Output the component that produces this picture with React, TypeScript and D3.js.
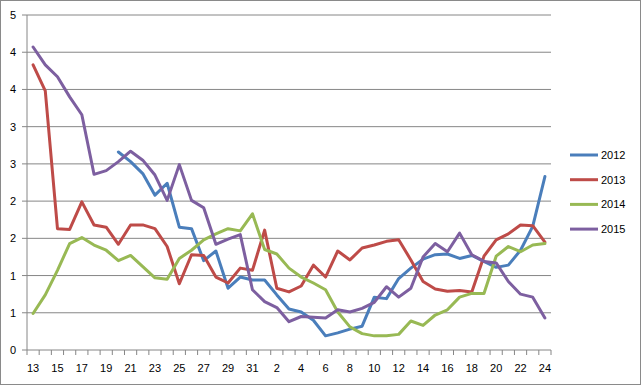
import * as d3 from "d3";

// x categories: day numbers, 13th-31st then 1st-24th
const days = [
  13, 14, 15, 16, 17, 18, 19, 20, 21, 22, 23, 24, 25, 26, 27, 28, 29, 30, 31,
  1, 2, 3, 4, 5, 6, 7, 8, 9, 10, 11, 12, 13, 14, 15, 16, 17, 18, 19, 20, 21, 22, 23, 24,
];

const s2012 = [
  null, null, null, null, null, null, null, 2.66, 2.53, 2.37, 2.08, 2.24, 1.65, 1.63, 1.2, 1.33, 0.83, 0.98, 0.94,
  0.94, 0.74, 0.55, 0.51, 0.4, 0.19, 0.23, 0.28, 0.32, 0.71, 0.69, 0.96, 1.1, 1.22, 1.28, 1.29, 1.23, 1.27, 1.19,
  1.11, 1.14, 1.34, 1.66, 2.33,
];
const s2013 = [
  3.83, 3.48, 1.63, 1.62, 1.99, 1.68, 1.65, 1.42, 1.68, 1.68, 1.63, 1.39, 0.89, 1.28, 1.27, 0.98, 0.9, 1.1, 1.07,
  1.61, 0.83, 0.78, 0.86, 1.14, 0.98, 1.33, 1.21, 1.37, 1.41, 1.46, 1.48, 1.21, 0.92, 0.82, 0.79, 0.8, 0.78, 1.26,
  1.48, 1.56, 1.68, 1.67, 1.45,
];
const s2014 = [
  0.49, 0.74, 1.07, 1.43, 1.51, 1.41, 1.34, 1.2, 1.27, 1.12, 0.97, 0.95, 1.23, 1.34, 1.48, 1.56, 1.63, 1.6, 1.83,
  1.35, 1.29, 1.1, 0.98, 0.9, 0.81, 0.51, 0.31, 0.22, 0.19, 0.19, 0.21, 0.39, 0.33, 0.47, 0.54, 0.71, 0.76, 0.76,
  1.26, 1.39, 1.32, 1.41, 1.43,
];
const s2015 = [
  4.07, 3.83, 3.67, 3.4, 3.16, 2.36, 2.41, 2.53, 2.67, 2.55, 2.35, 2.01, 2.49, 2.01, 1.91, 1.42, 1.49, 1.55, 0.81,
  0.65, 0.57, 0.38, 0.45, 0.44, 0.43, 0.54, 0.51, 0.56, 0.64, 0.85, 0.71, 0.83, 1.25, 1.43, 1.32, 1.57, 1.28, 1.19,
  1.17, 0.92, 0.75, 0.71, 0.43,
];

const seriesNames = ["2012", "2013", "2014", "2015"];
const seriesColors = ["#4a7ebb", "#be4b48", "#98b954", "#7d5fa0"];
const yTicks = [0, 0.5, 1, 1.5, 2, 2.5, 3, 3.5, 4, 4.5];
const yTickLabels = ["0", "1", "1", "2", "2", "3", "3", "4", "4", "5"];

const W = 641;
const H = 385;
const left = 27;
const right = 551;
const top = 15;
const bottom = 350;
const font = "'Liberation Sans', Arial, sans-serif";

export default function App() {
  const all = [s2012, s2013, s2014, s2015];
  const x = d3
    .scaleBand<number>()
    .domain(days.map((_, i) => i))
    .range([left, right]);
  const bw = x.bandwidth();
  const cx = (i: number) => (x(i) as number) + bw / 2;
  const y = d3.scaleLinear().domain([0, 4.5]).range([bottom, top]);

  const line = d3
    .line<number | null>()
    .defined((d) => d !== null)
    .x((_, i) => cx(i))
    .y((d) => y(d as number));

  const boundaries = days.map((_, i) => x(i) as number).concat([right]);

  return (
    <svg width={W} height={H} style={{ position: "absolute", left: 0, top: 0, background: "#fff" }}>
      <rect x={0.5} y={0.5} width={W - 1} height={H - 1} fill="#fff" stroke="#8a8a8a" />
      {/* gridlines */}
      {yTicks.map((t) =>
        t === 0 ? null : (
          <line key={t} x1={left - 5} x2={right} y1={y(t)} y2={y(t)} stroke="#868686" strokeWidth={1} />
        )
      )}
      {/* axes */}
      <line x1={left} x2={left} y1={top} y2={bottom} stroke="#868686" />
      <line x1={left - 5} x2={right} y1={bottom} y2={bottom} stroke="#868686" />
      {boundaries.map((b, i) => (
        <line key={i} x1={b} x2={b} y1={bottom} y2={bottom + 5} stroke="#868686" />
      ))}
      {yTicks.map((t, i) => (
        <text key={t} x={16} y={y(t) + 4} textAnchor="end" fontSize={11} fontFamily={font} fill="#000">
          {yTickLabels[i]}
        </text>
      ))}
      {days.map((d, i) =>
        i % 2 === 0 ? (
          <text key={i} x={cx(i)} y={372} textAnchor="middle" fontSize={11} fontFamily={font} fill="#000">
            {d}
          </text>
        ) : null
      )}
      {/* series */}
      {all.map((s, k) => (
        <path
          key={k}
          d={line(s) || ""}
          fill="none"
          stroke={seriesColors[k]}
          strokeWidth={3}
          strokeLinejoin="round"
          strokeLinecap="round"
        />
      ))}
      {/* legend */}
      {seriesNames.map((n, k) => {
        const ly = 155 + k * 24.7;
        return (
          <g key={n}>
            <line x1={570} x2={598} y1={ly} y2={ly} stroke={seriesColors[k]} strokeWidth={3} />
            <text x={601} y={ly + 4} fontSize={11} fontFamily={font} fill="#000">
              {n}
            </text>
          </g>
        );
      })}
    </svg>
  );
}
